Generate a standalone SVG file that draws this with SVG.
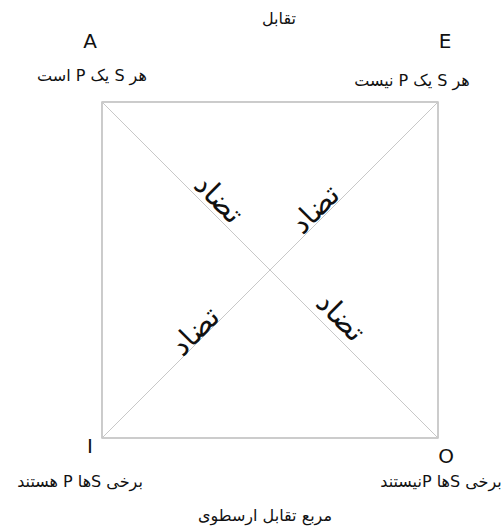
<svg xmlns="http://www.w3.org/2000/svg" width="503" height="531" viewBox="0 0 503 531">
<style>
text{font-family:"DejaVu Sans","Noto Sans",sans-serif;fill:#111;}
.lbl{font-size:16px;}
.fa{direction:rtl;unicode-bidi:embed;}
.big{font-size:20px;}
.diag{font-size:29px;}
</style>
<rect width="503" height="531" fill="#fff"/>
<g id="connectors">
<rect x="102" y="102" width="336" height="336" fill="none" stroke="#aaa" stroke-width="1.2"/>
<line x1="102" y1="102" x2="438" y2="438" stroke="#c8c8c8" stroke-width="1"/>
<line x1="438" y1="102" x2="102" y2="438" stroke="#c8c8c8" stroke-width="1"/>
</g>
<g id="title"><text class="lbl fa" x="279" y="24" text-anchor="middle">تقابل</text></g>
<g id="nodeA">
<text class="big" x="90" y="48" text-anchor="middle">A</text>
<text class="lbl fa" x="92" y="81" text-anchor="middle">هر S یک P است</text>
</g>
<g id="nodeE">
<text class="big" x="445" y="48" text-anchor="middle">E</text>
<text class="lbl fa" x="412" y="86" text-anchor="middle">هر S یک P نیست</text>
</g>
<g id="nodeI">
<text class="big" x="90" y="453" text-anchor="middle">I</text>
<text class="lbl fa" x="80" y="487" text-anchor="middle">برخی Sها P هستند</text>
</g>
<g id="nodeO">
<text class="big" x="446" y="463" text-anchor="middle">O</text>
<text class="lbl fa" x="441" y="487" text-anchor="middle">برخی Sها Pنیستند</text>
</g>
<g id="caption"><text class="lbl fa" x="265" y="521" text-anchor="middle">مربع تقابل ارسطوی</text></g>
<g id="labels">
<text class="diag fa" text-anchor="middle" transform="translate(212,206) rotate(45)">تضاد</text>
<text class="diag fa" text-anchor="middle" transform="translate(322,216) rotate(-45)">تضاد</text>
<text class="diag fa" text-anchor="middle" transform="translate(202,338) rotate(-45)">تضاد</text>
<text class="diag fa" text-anchor="middle" transform="translate(334,324) rotate(45)">تضاد</text>
</g>
</svg>
